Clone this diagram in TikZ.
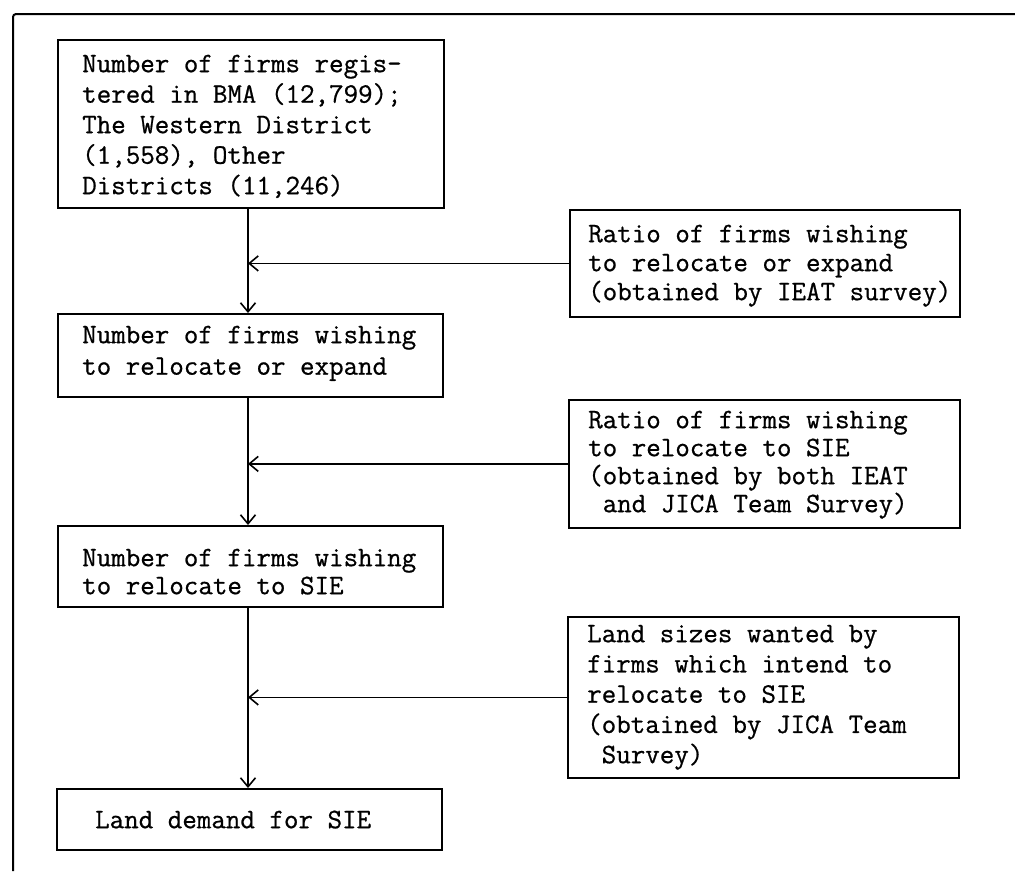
\documentclass[tikz,border=0pt]{standalone}
\usepackage{fontspec}
\usetikzlibrary{arrows.meta}
\newfontfamily\twfont[FakeBold=0.7]{Latin Modern Mono}
\begin{document}
\begin{tikzpicture}[x=1pt,y=-1pt,
  box/.style={draw, line width=1.8pt, anchor=north west, inner sep=0pt},
  txt/.style={anchor=north west, inner sep=0pt, align=left, font=\twfont\fontsize{28.2}{#1}\selectfont},
  txt/.default=30,
  arr/.style={line width=1.6pt, -{Straight Barb[length=9pt,width=15pt,line width=1.6pt]}},
  ln/.style={line width=1.6pt}]
\useasboundingbox (0,0) rectangle (1015,871);
% outer frame
\draw[line width=2pt, rounded corners=3pt] (13,871) -- (13,14) -- (1015,14);
% boxes
\node[box, minimum width=386pt, minimum height=168pt] (b1) at (57,39) {};
\node[box, minimum width=390pt, minimum height=107pt] (b2) at (569,209) {};
\node[box, minimum width=385pt, minimum height=83pt] (b3) at (57,313) {};
\node[box, minimum width=391pt, minimum height=128pt] (b4) at (568,399) {};
\node[box, minimum width=385pt, minimum height=81pt] (b5) at (57,525) {};
\node[box, minimum width=391pt, minimum height=161pt] (b6) at (567,616) {};
\node[box, minimum width=385pt, minimum height=61pt] (b7) at (56,788) {};
% texts
\node[txt=30.5] (t1) at (82,52) {\rule{0pt}{20pt}Number of firms regis-\\tered in BMA (12,799);\\The Western District\\(1,558), Other\\Districts (11,246)};
\node[txt=29] (t2) at (588,222) {\rule{0pt}{20pt}Ratio of firms wishing\\to relocate or expand\\(obtained by IEAT survey)};
\node[txt=31.5] (t3) at (82,323) {\rule{0pt}{20pt}Number of firms wishing\\to relocate or expand};
\node[txt=28] (t4) at (588,408) {\rule{0pt}{20pt}Ratio of firms wishing\\to relocate to SIE\\(obtained by both IEAT\\\ and JICA Team Survey)};
\node[txt=28] (t5) at (82,546) {\rule{0pt}{20pt}Number of firms wishing\\to relocate to SIE};
\node[txt=30.25] (t6) at (587,622) {\rule{0pt}{20pt}Land sizes wanted by\\firms which intend to\\relocate to SIE\\(obtained by JICA Team\\\ Survey)};
\node[txt] (t7) at (95,808) {\rule{0pt}{20pt}Land demand for SIE};
% trunk
\coordinate (tx) at (248,0);
\draw[arr] (b1.south -| tx) -- (b3.north -| tx);
\draw[arr] (b3.south -| tx) -- (b5.north -| tx);
\draw[arr] (b5.south -| tx) -- (b7.north -| tx);
% side inputs
\draw[arr] (b2.west) -- (b2.west -| tx);
\draw[arr] (b4.west) -- (b4.west -| tx);
\draw[arr] (b6.west) -- (b6.west -| tx);
\end{tikzpicture}
\end{document}
